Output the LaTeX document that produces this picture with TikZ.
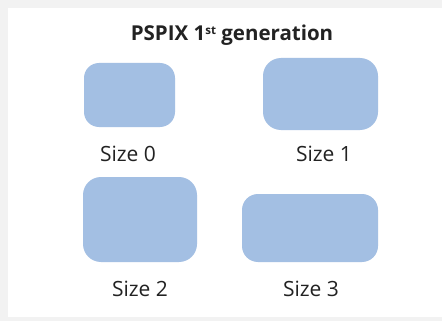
\documentclass[tikz,border=0pt]{standalone}
\usepackage{fontspec}
\setmainfont{Open Sans}
\definecolor{bg}{HTML}{F2F2F2}
\definecolor{pad}{HTML}{A3BFE3}
\definecolor{txt}{HTML}{222222}
\begin{document}
\begin{tikzpicture}[x=1pt,y=-1pt,
  padshape/.style={fill=pad,draw=none},
  lbl/.style={text=txt,font=\fontsize{21}{24}\selectfont,inner sep=0pt,anchor=base}]
\fill[bg] (0,0) rectangle (442,321);
\fill[white] (8,8) rectangle (442,317);
\node[text=txt,font=\bfseries\fontsize{20.5}{23}\selectfont,inner sep=0pt,anchor=base] (title) at (232,41) {PSPIX 1{\fontsize{11.5}{12}\selectfont\raisebox{6.5pt}{st}} generation};
\fill[padshape,rounded corners=15pt] (84,63) rectangle (175,127);
\fill[padshape,rounded corners=18pt] (263,58) rectangle (378,130);
\fill[padshape,rounded corners=18pt] (83,177) rectangle (197,262);
\fill[padshape,rounded corners=16pt] (242,194) rectangle (378,262);
\node[lbl] (s0) at (128,161) {Size 0};
\node[lbl] (s1) at (324,161) {Size 1};
\node[lbl] (s2) at (140,296) {Size 2};
\node[lbl] (s3) at (311,296) {Size 3};
\end{tikzpicture}
\end{document}
